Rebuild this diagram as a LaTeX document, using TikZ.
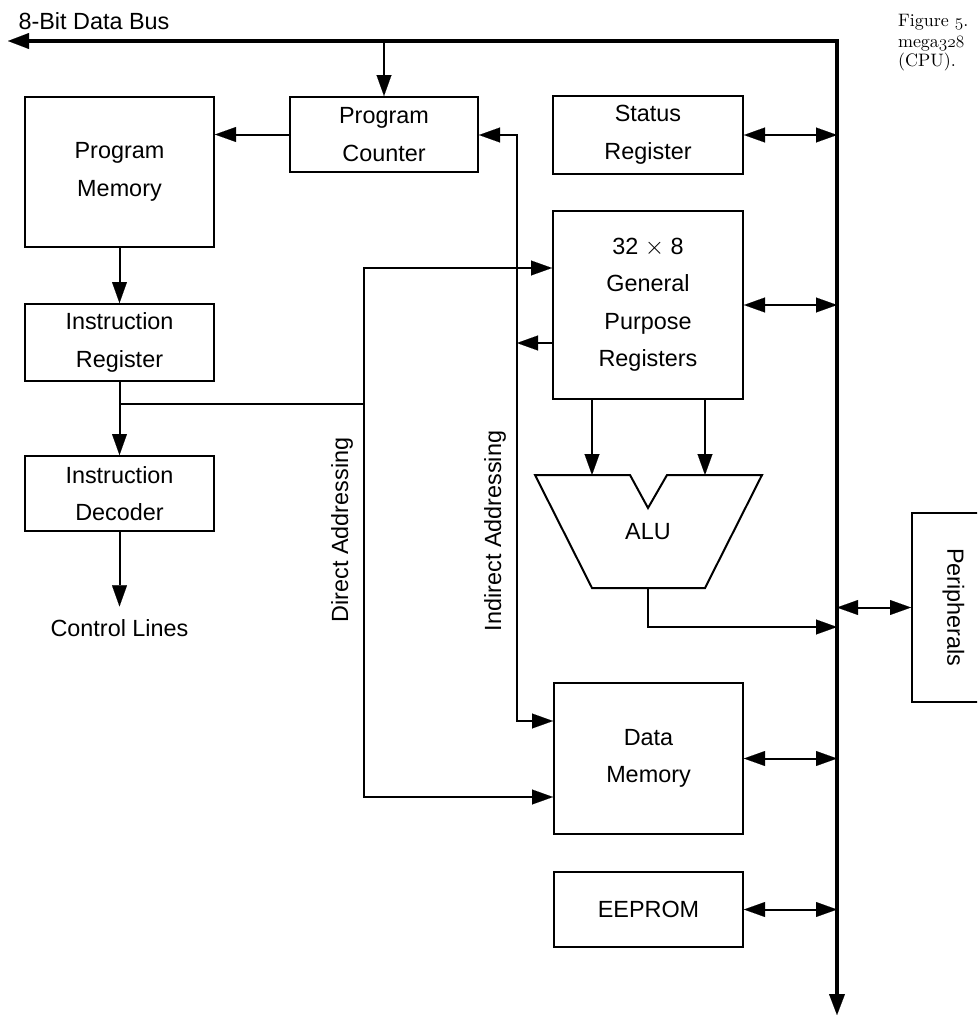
\documentclass[tikz,border=0pt]{standalone}
\usepackage{fontspec}
\newfontfamily\diagfont{Liberation Sans}
\newfontfamily\capfont{lmroman10-regular.otf}
\usetikzlibrary{arrows.meta,calc}
\newcommand\capnum[1]{{\usefont{OML}{lmm}{m}{it}#1}}
\begin{document}
\begin{tikzpicture}[x=1pt,y=-1pt,
  >={Triangle[length=21pt,width=15pt,line width=0.1pt]},
  line width=2pt,
  blk/.style={draw,line width=2pt,inner sep=0pt,align=center,
    font=\diagfont\fontsize{23.4}{37.5}\selectfont},
  lbl/.style={inner sep=0pt,font=\diagfont\fontsize{23.4}{28}\selectfont},
  buspen/.style={line width=4pt},
  wire/.style={line width=2pt},
  captext/.style={anchor=base west,inner sep=0pt,font=\capfont\fontsize{18}{20}\selectfont}]
\useasboundingbox (0,0) rectangle (977,1017);
\clip (0,0) rectangle (977,1017);

% boxes
\node[blk,minimum width=189pt,minimum height=150pt] (pm) at (119.5,172) {Program\\Memory};
\node[blk,minimum width=188pt,minimum height=75pt] (pc) at (384,134.5) {Program\\Counter};
\node[blk,minimum width=190pt,minimum height=78pt] (sr) at (648,135) {Status\\Register};
\node[blk,minimum width=190pt,minimum height=188pt] (gp) at (648,305) {32 $\times$ 8\\General\\Purpose\\Registers};
\node[blk,minimum width=189pt,minimum height=77pt] (ir) at (119.5,342.5) {Instruction\\Register};
\node[blk,minimum width=189pt,minimum height=75pt] (id) at (119.5,493.5) {Instruction\\Decoder};
\node[blk,minimum width=189pt,minimum height=151pt] (dm) at (648.5,758.5) {Data\\Memory};
\node[blk,minimum width=189pt,minimum height=75pt] (ee) at (648.5,909.5) {EEPROM};
\node[blk,minimum width=83pt,minimum height=189pt] (per) at (953.5,607.5) {\rotatebox{-90}{Peripherals}};

% labels
\node[lbl] (busl) at (94,21) {8-Bit Data Bus};
\node[lbl,rotate=90] (dal) at (342,530) {Direct Addressing};
\node[lbl,rotate=90] (ial) at (495,531) {Indirect Addressing};
\node[lbl] (cl) at (119.5,628) {Control Lines};
\node[lbl] (alu) at (648,532) {ALU};

% caption (cut off at the right edge)
\node[captext] (c1) at (897,27) {Figure \capnum{5}.};
\node[captext] (c2) at (897,47) {mega\capnum{328}};
\node[captext] (c3) at (897,66) {(CPU).};

% ALU shape
\coordinate (a1) at (592,475);
\coordinate (a2) at (705,475);
\coordinate (ao) at (648,588);
\draw[wire] (535,475) -- (630,475) -- (648,508) -- (667,475) -- (762,475)
  -- (705,588) -- (592,588) -- cycle;

% bus
\coordinate (busL) at (8,41);
\coordinate (busC) at (837,41);
\coordinate (busB) at (837,1015);
\draw[buspen,{Triangle[length=21pt,width=16pt,line width=0.1pt]}-{Triangle[length=21pt,width=16pt,line width=0.1pt]}]
  (busL) -- (busC) -- (busB);

% bus connections
\draw[->] (pc.north |- busC) -- (pc.north);
\draw[<->] (sr.east) -- (sr.east -| busC);
\draw[<->] (gp.east) -- (gp.east -| busC);
\draw[<->] (dm.east) -- (dm.east -| busC);
\draw[<->] (ee.east) -- (ee.east -| busC);
\draw[<->] (per.west -| busC) -- (per.west);
\coordinate (aoc) at (837,627);
\draw[->] (ao) |- (aoc);

% GP to ALU
\draw[->] (gp.south -| a1) -- (a1);
\draw[->] (gp.south -| a2) -- (a2);

% left column
\draw[->] (pc.west) -- (pc.west -| pm.east);
\draw[->] (pm.south) -- (ir.north);
\draw[->] (ir.south) -- (id.north);
\draw[->] (id.south) -- ([yshift=12pt]cl.north);

% direct addressing
\coordinate (j) at (119.5,404);
\coordinate (da1) at (364,268);
\coordinate (da2) at (364,797);
\draw (j) -- (j -| da1);
\draw[<->] (gp.west |- da1) -- (da1) -- (da2) -- (dm.west |- da2);

% indirect addressing
\coordinate (ia1) at (517,135);
\coordinate (ia2) at (517,721);
\coordinate (ia3) at (517,343);
\draw[<->] (pc.east |- ia1) -- (ia1) -- (ia2) -- (dm.west |- ia2);
\draw[->] (gp.west |- ia3) -- (ia3);
\end{tikzpicture}
\end{document}
